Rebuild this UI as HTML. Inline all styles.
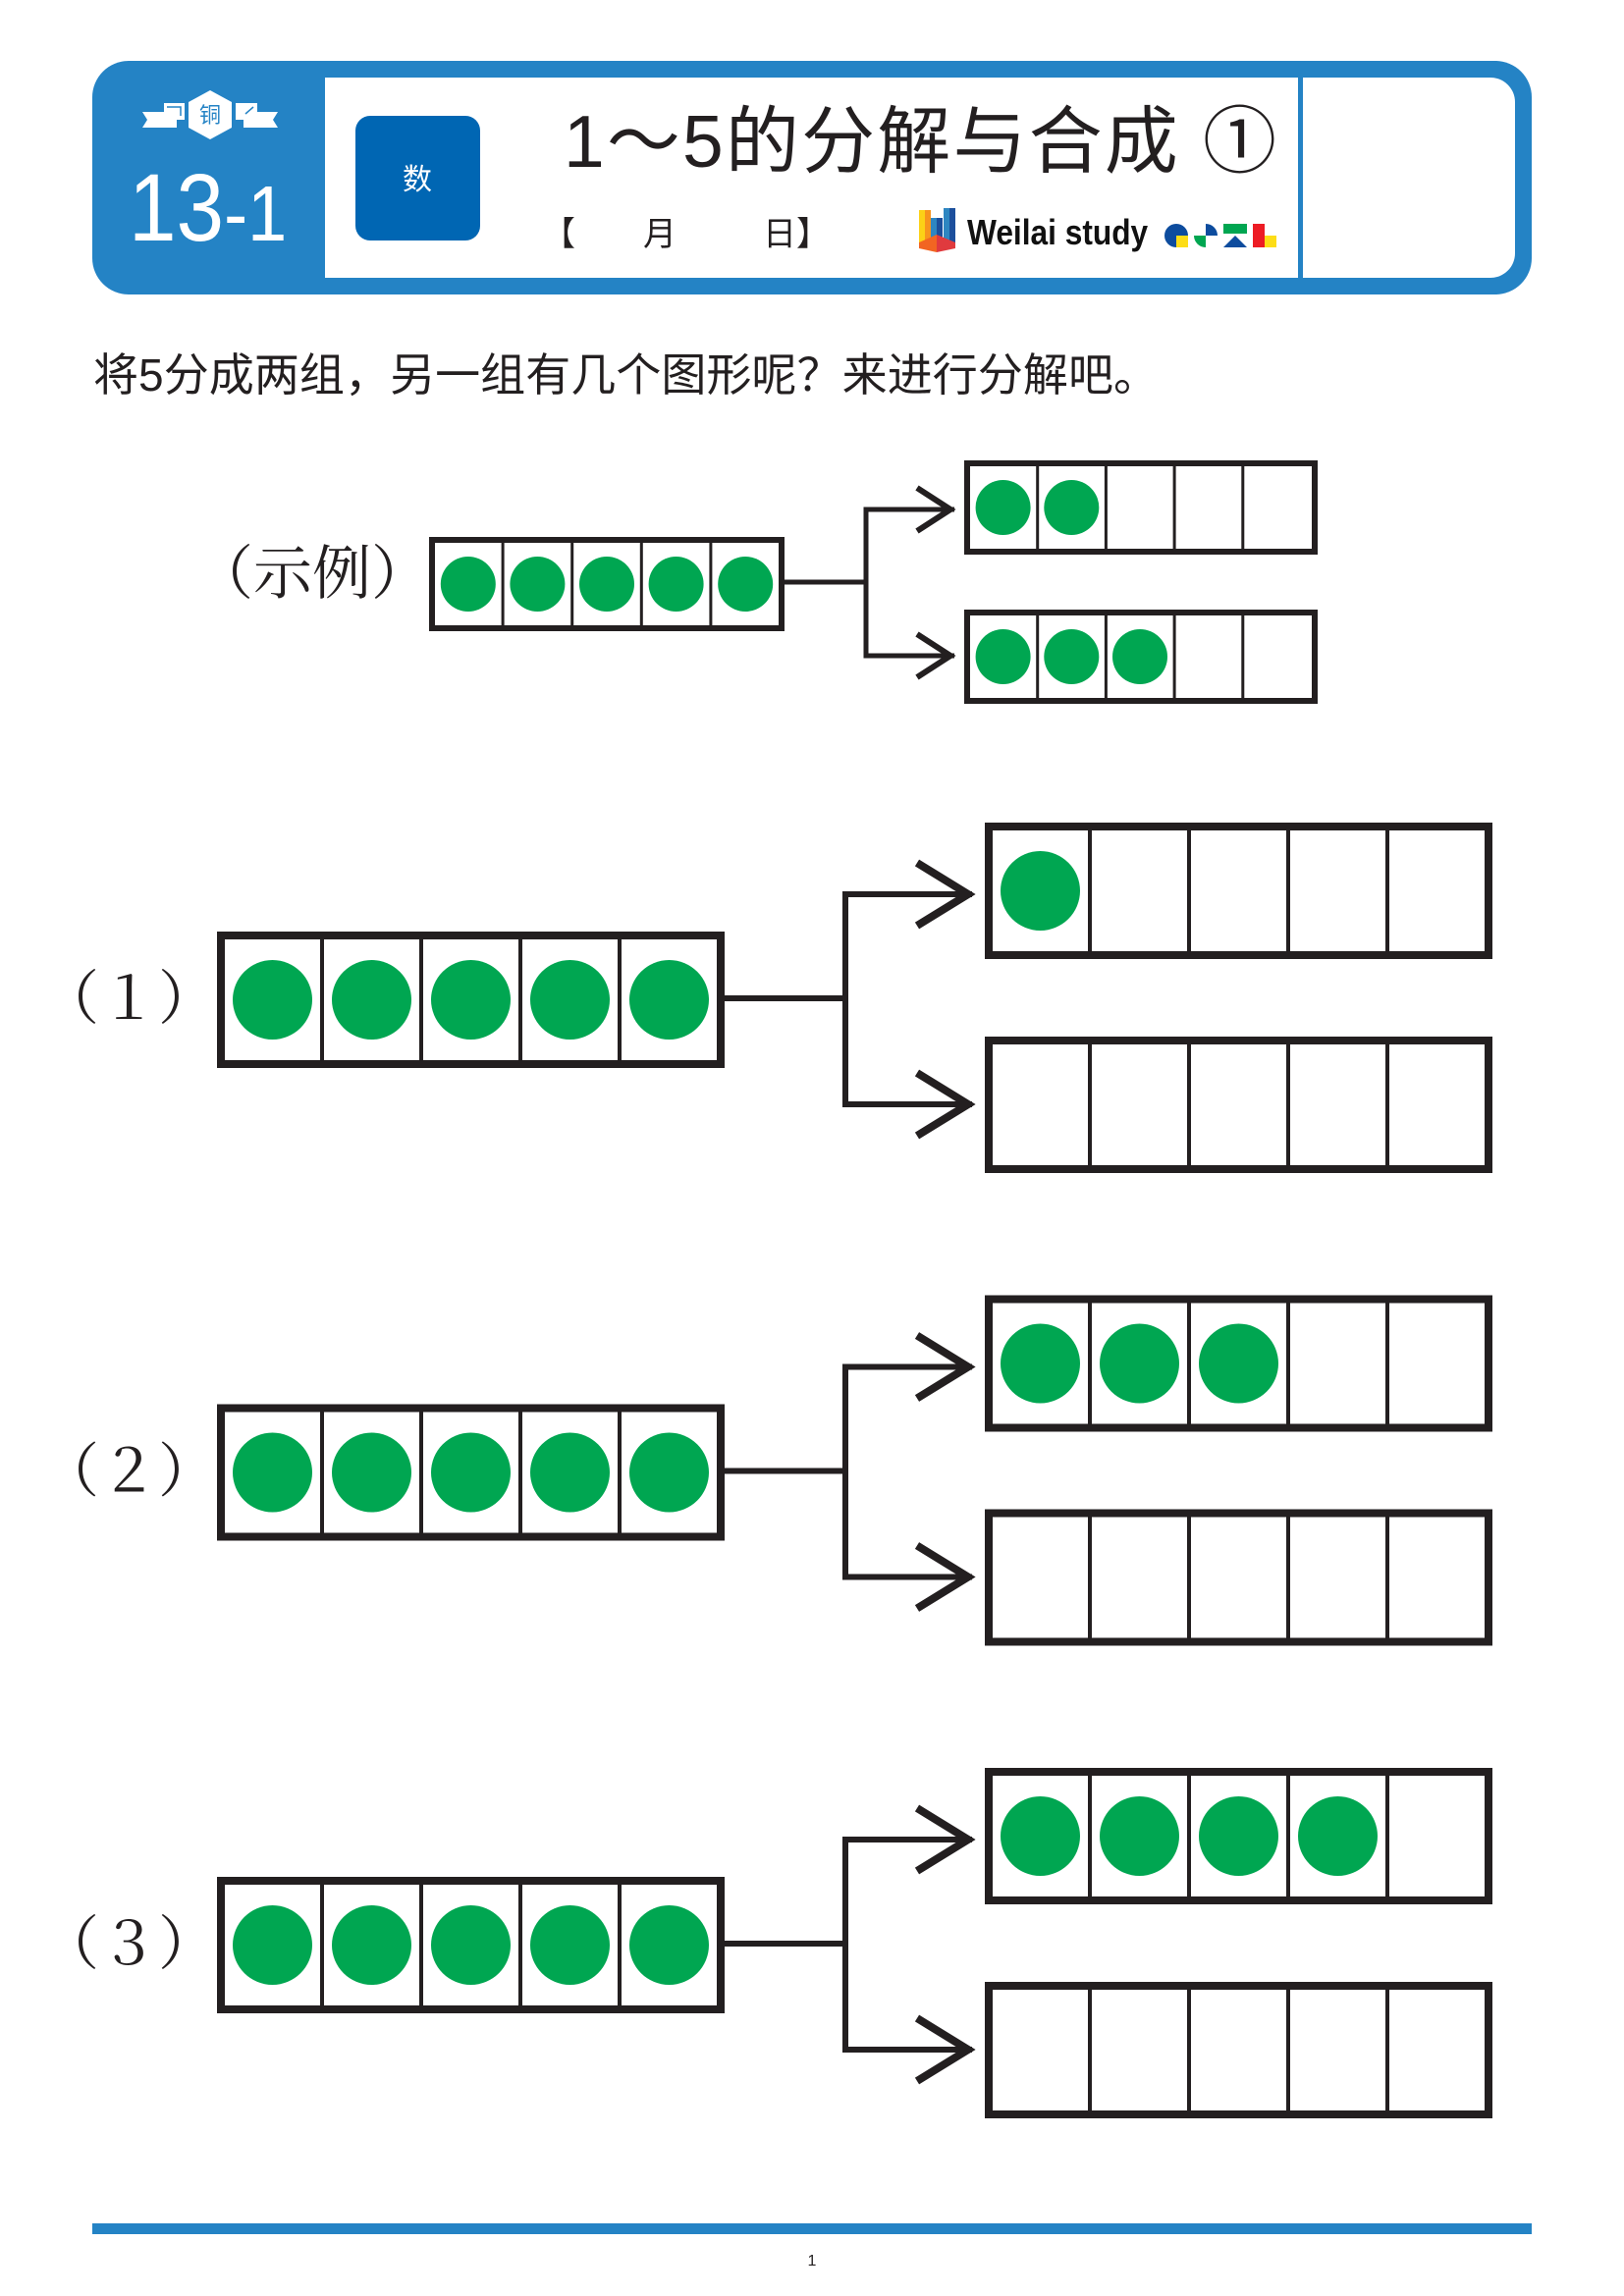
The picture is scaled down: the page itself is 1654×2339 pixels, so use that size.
<!DOCTYPE html>
<html>
<head>
<meta charset="utf-8">
<style>
  html,body{margin:0;padding:0;background:#fff;}
  body{width:1654px;height:2339px;overflow:hidden;position:relative;}
  svg{position:absolute;left:0;top:0;}
  .sans{font-family:"Liberation Sans","Noto Sans CJK SC",sans-serif;}
  .serif{font-family:"Liberation Serif","Noto Serif CJK SC",serif;}
</style>
</head>
<body>
<svg width="1654" height="2339" viewBox="0 0 1654 2339" xmlns="http://www.w3.org/2000/svg">
  <!-- ============ HEADER ============ -->
  <rect x="94" y="62" width="1466" height="238" rx="37" ry="37" fill="#2483c5"/>
  <path d="M331 79 H1518 A25 25 0 0 1 1543 104 V258 A25 25 0 0 1 1518 283 H331 Z" fill="#fff"/>
  <rect x="1322" y="79" width="5" height="204" fill="#2483c5"/>

  <!-- badge -->
  <polygon points="145,114 180,114 180,130 145,130 150,122" fill="#fff"/>
  <rect x="167" y="105" width="21" height="17" fill="#fff"/>
  <polyline points="170,109 184,109 184,118" fill="none" stroke="#2483c5" stroke-width="1.5"/>
  <polygon points="248,114 283,114 278,122 283,130 248,130" fill="#fff"/>
  <rect x="240" y="105" width="22" height="17" fill="#fff"/>
  <line x1="250" y1="116" x2="258" y2="109" stroke="#2483c5" stroke-width="1.5"/>
  <polygon points="214,92 236,104 236,130 214,142 192,130 192,104" fill="#fff"/>
  <text x="214" y="125" font-size="22" fill="#2483c5" text-anchor="middle" class="sans">铜</text>

  <!-- 13-1 -->
  <g transform="translate(131,245) scale(0.9,1)">
    <text x="0" y="0" font-size="97" fill="#fff" class="sans">13<tspan font-size="80">-1</tspan></text>
  </g>

  <!-- 数 box -->
  <rect x="362" y="118" width="127" height="127" rx="15" ry="15" fill="#0066b3"/>
  <text x="425" y="193" font-size="30" fill="#fff" text-anchor="middle" class="sans">数</text>

  <!-- title -->
  <text x="574" y="170" font-size="75" fill="#231f20" class="sans" textLength="726" lengthAdjust="spacing">1～5的分解与合成 ①</text>

  <!-- date -->
  <text x="552" y="250" font-size="34" fill="#231f20" class="sans">【</text>
  <text x="655" y="250" font-size="34" fill="#231f20" class="sans">月</text>
  <text x="777" y="250" font-size="34" fill="#231f20" class="sans">日】</text>

  <!-- logo icon -->
  <rect x="936" y="214" width="6" height="36" fill="#fcd116"/>
  <rect x="942" y="214" width="6" height="36" fill="#f7941d"/>
  <rect x="948" y="222" width="6" height="24" fill="#2e86c1"/>
  <rect x="954" y="222" width="6" height="24" fill="#1c4f9c"/>
  <rect x="961" y="212" width="6" height="38" fill="#2e86c1"/>
  <rect x="967" y="212" width="6" height="38" fill="#1c4f9c"/>
  <polygon points="936,247 954,239 954,257 936,253" fill="#f26522"/>
  <polygon points="954,239 973,247 973,253 954,257" fill="#e03a3e"/>
  <g transform="translate(985,249) scale(0.88,1)">
    <text x="0" y="0" font-size="36" font-weight="bold" fill="#111" class="sans">Weilai study</text>
  </g>
  <!-- small shapes -->
  <circle cx="1198" cy="240" r="12" fill="#0d4c9e"/>
  <rect x="1198" y="240" width="12" height="12" fill="#fddd17"/>
  <path d="M1228 240 L1228 252 A12 12 0 0 1 1216 240 Z" fill="#00a651"/>
  <path d="M1228 240 L1228 228 A12 12 0 0 1 1240 240 Z" fill="#0d4c9e"/>
  <rect x="1246" y="228" width="24" height="10" fill="#00a651"/>
  <polygon points="1258,240 1270,252 1246,252" fill="#0d4c9e"/>
  <rect x="1276" y="228" width="12" height="24" fill="#ed1c24"/>
  <rect x="1288" y="240" width="12" height="12" fill="#fddd17"/>

  <!-- ============ INSTRUCTION ============ -->
  <text x="95" y="398" font-size="46" fill="#231f20" class="sans" textLength="1085" lengthAdjust="spacing">将5分成两组，另一组有几个图形呢？来进行分解吧。</text>

  <!-- ============ EXAMPLE ============ -->
  <text x="318" y="605" font-size="60" fill="#231f20" text-anchor="middle" class="serif">（示例）</text>
  <g fill="none" stroke="#231f20">
    <rect x="440" y="550" width="356" height="90" stroke-width="6"/>
    <g stroke-width="3">
      <line x1="512.1" y1="550" x2="512.1" y2="640"/>
      <line x1="582.7" y1="550" x2="582.7" y2="640"/>
      <line x1="653.3" y1="550" x2="653.3" y2="640"/>
      <line x1="723.9" y1="550" x2="723.9" y2="640"/>
    </g>
    <rect x="985" y="472" width="354" height="90" stroke-width="6"/>
    <rect x="985" y="624" width="354" height="90" stroke-width="6"/>
    <g stroke-width="3">
      <line x1="1056.7" y1="472" x2="1056.7" y2="562"/>
      <line x1="1126.4" y1="472" x2="1126.4" y2="562"/>
      <line x1="1196.1" y1="472" x2="1196.1" y2="562"/>
      <line x1="1265.8" y1="472" x2="1265.8" y2="562"/>
      <line x1="1056.7" y1="624" x2="1056.7" y2="714"/>
      <line x1="1126.4" y1="624" x2="1126.4" y2="714"/>
      <line x1="1196.1" y1="624" x2="1196.1" y2="714"/>
      <line x1="1265.8" y1="624" x2="1265.8" y2="714"/>
    </g>
    <path d="M799 593 H882 M972 519 H882 V668 H972" stroke-width="5" stroke-linejoin="miter" stroke-linecap="butt"/>
    <polyline points="934,497 968,519 934,541" stroke-width="6" stroke-linejoin="miter" stroke-miterlimit="10"/>
    <polyline points="934,646 968,668 934,690" stroke-width="6" stroke-linejoin="miter" stroke-miterlimit="10"/>
  </g>
  <g fill="#00a651">
    <circle cx="476.8" cy="595" r="28"/>
    <circle cx="547.4" cy="595" r="28"/>
    <circle cx="618" cy="595" r="28"/>
    <circle cx="688.6" cy="595" r="28"/>
    <circle cx="759.2" cy="595" r="28"/>
    <circle cx="1021.6" cy="517" r="28"/>
    <circle cx="1091.3" cy="517" r="28"/>
    <circle cx="1021.6" cy="669" r="28"/>
    <circle cx="1091.3" cy="669" r="28"/>
    <circle cx="1161" cy="669" r="28"/>
  </g>

  <!-- ============ PROBLEM 1 ============ -->
  <g>
    <text x="131" y="1038" font-size="60" fill="#231f20" text-anchor="middle" class="serif">（１）</text>
    <g fill="none" stroke="#231f20">
      <rect x="225" y="953" width="509" height="131" stroke-width="8"/>
      <g stroke-width="4">
        <line x1="328" y1="953" x2="328" y2="1084"/><line x1="429" y1="953" x2="429" y2="1084"/>
        <line x1="530" y1="953" x2="530" y2="1084"/><line x1="631" y1="953" x2="631" y2="1084"/>
      </g>
      <rect x="1007" y="842" width="509" height="131" stroke-width="8"/>
      <rect x="1007" y="1060" width="509" height="131" stroke-width="8"/>
      <g stroke-width="4">
        <line x1="1110" y1="842" x2="1110" y2="973"/><line x1="1211" y1="842" x2="1211" y2="973"/>
        <line x1="1312" y1="842" x2="1312" y2="973"/><line x1="1413" y1="842" x2="1413" y2="973"/>
        <line x1="1110" y1="1060" x2="1110" y2="1191"/><line x1="1211" y1="1060" x2="1211" y2="1191"/>
        <line x1="1312" y1="1060" x2="1312" y2="1191"/><line x1="1413" y1="1060" x2="1413" y2="1191"/>
      </g>
      <path d="M738 1017 H861 M990 911 H861 V1125 H990" stroke-width="6" stroke-linejoin="miter"/>
      <polyline points="934,879 986,911 934,943" stroke-width="8" stroke-linejoin="miter" stroke-miterlimit="10"/>
      <polyline points="934,1093 986,1125 934,1157" stroke-width="8" stroke-linejoin="miter" stroke-miterlimit="10"/>
    </g>
    <g fill="#00a651">
      <circle cx="277.5" cy="1018.5" r="40.5"/><circle cx="378.5" cy="1018.5" r="40.5"/>
      <circle cx="479.5" cy="1018.5" r="40.5"/><circle cx="580.5" cy="1018.5" r="40.5"/>
      <circle cx="681.5" cy="1018.5" r="40.5"/>
      <circle cx="1059.5" cy="907.5" r="40.5"/>
    </g>
  </g>

  <!-- ============ PROBLEM 2 ============ -->
  <g transform="translate(0,481.5)">
    <text x="131" y="1038" font-size="60" fill="#231f20" text-anchor="middle" class="serif">（２）</text>
    <g fill="none" stroke="#231f20">
      <rect x="225" y="953" width="509" height="131" stroke-width="8"/>
      <g stroke-width="4">
        <line x1="328" y1="953" x2="328" y2="1084"/><line x1="429" y1="953" x2="429" y2="1084"/>
        <line x1="530" y1="953" x2="530" y2="1084"/><line x1="631" y1="953" x2="631" y2="1084"/>
      </g>
      <rect x="1007" y="842" width="509" height="131" stroke-width="8"/>
      <rect x="1007" y="1060" width="509" height="131" stroke-width="8"/>
      <g stroke-width="4">
        <line x1="1110" y1="842" x2="1110" y2="973"/><line x1="1211" y1="842" x2="1211" y2="973"/>
        <line x1="1312" y1="842" x2="1312" y2="973"/><line x1="1413" y1="842" x2="1413" y2="973"/>
        <line x1="1110" y1="1060" x2="1110" y2="1191"/><line x1="1211" y1="1060" x2="1211" y2="1191"/>
        <line x1="1312" y1="1060" x2="1312" y2="1191"/><line x1="1413" y1="1060" x2="1413" y2="1191"/>
      </g>
      <path d="M738 1017 H861 M990 911 H861 V1125 H990" stroke-width="6" stroke-linejoin="miter"/>
      <polyline points="934,879 986,911 934,943" stroke-width="8" stroke-linejoin="miter" stroke-miterlimit="10"/>
      <polyline points="934,1093 986,1125 934,1157" stroke-width="8" stroke-linejoin="miter" stroke-miterlimit="10"/>
    </g>
    <g fill="#00a651">
      <circle cx="277.5" cy="1018.5" r="40.5"/><circle cx="378.5" cy="1018.5" r="40.5"/>
      <circle cx="479.5" cy="1018.5" r="40.5"/><circle cx="580.5" cy="1018.5" r="40.5"/>
      <circle cx="681.5" cy="1018.5" r="40.5"/>
      <circle cx="1059.5" cy="907.5" r="40.5"/><circle cx="1160.5" cy="907.5" r="40.5"/>
      <circle cx="1261.5" cy="907.5" r="40.5"/>
    </g>
  </g>

  <!-- ============ PROBLEM 3 ============ -->
  <g transform="translate(0,963)">
    <text x="131" y="1038" font-size="60" fill="#231f20" text-anchor="middle" class="serif">（３）</text>
    <g fill="none" stroke="#231f20">
      <rect x="225" y="953" width="509" height="131" stroke-width="8"/>
      <g stroke-width="4">
        <line x1="328" y1="953" x2="328" y2="1084"/><line x1="429" y1="953" x2="429" y2="1084"/>
        <line x1="530" y1="953" x2="530" y2="1084"/><line x1="631" y1="953" x2="631" y2="1084"/>
      </g>
      <rect x="1007" y="842" width="509" height="131" stroke-width="8"/>
      <rect x="1007" y="1060" width="509" height="131" stroke-width="8"/>
      <g stroke-width="4">
        <line x1="1110" y1="842" x2="1110" y2="973"/><line x1="1211" y1="842" x2="1211" y2="973"/>
        <line x1="1312" y1="842" x2="1312" y2="973"/><line x1="1413" y1="842" x2="1413" y2="973"/>
        <line x1="1110" y1="1060" x2="1110" y2="1191"/><line x1="1211" y1="1060" x2="1211" y2="1191"/>
        <line x1="1312" y1="1060" x2="1312" y2="1191"/><line x1="1413" y1="1060" x2="1413" y2="1191"/>
      </g>
      <path d="M738 1017 H861 M990 911 H861 V1125 H990" stroke-width="6" stroke-linejoin="miter"/>
      <polyline points="934,879 986,911 934,943" stroke-width="8" stroke-linejoin="miter" stroke-miterlimit="10"/>
      <polyline points="934,1093 986,1125 934,1157" stroke-width="8" stroke-linejoin="miter" stroke-miterlimit="10"/>
    </g>
    <g fill="#00a651">
      <circle cx="277.5" cy="1018.5" r="40.5"/><circle cx="378.5" cy="1018.5" r="40.5"/>
      <circle cx="479.5" cy="1018.5" r="40.5"/><circle cx="580.5" cy="1018.5" r="40.5"/>
      <circle cx="681.5" cy="1018.5" r="40.5"/>
      <circle cx="1059.5" cy="907.5" r="40.5"/><circle cx="1160.5" cy="907.5" r="40.5"/>
      <circle cx="1261.5" cy="907.5" r="40.5"/><circle cx="1362.5" cy="907.5" r="40.5"/>
    </g>
  </g>

  <!-- ============ FOOTER ============ -->
  <rect x="94" y="2265" width="1466" height="11" fill="#2483c5"/>
  <text x="827" y="2308" font-size="16" fill="#231f20" text-anchor="middle" class="sans">1</text>
</svg>
</body>
</html>
